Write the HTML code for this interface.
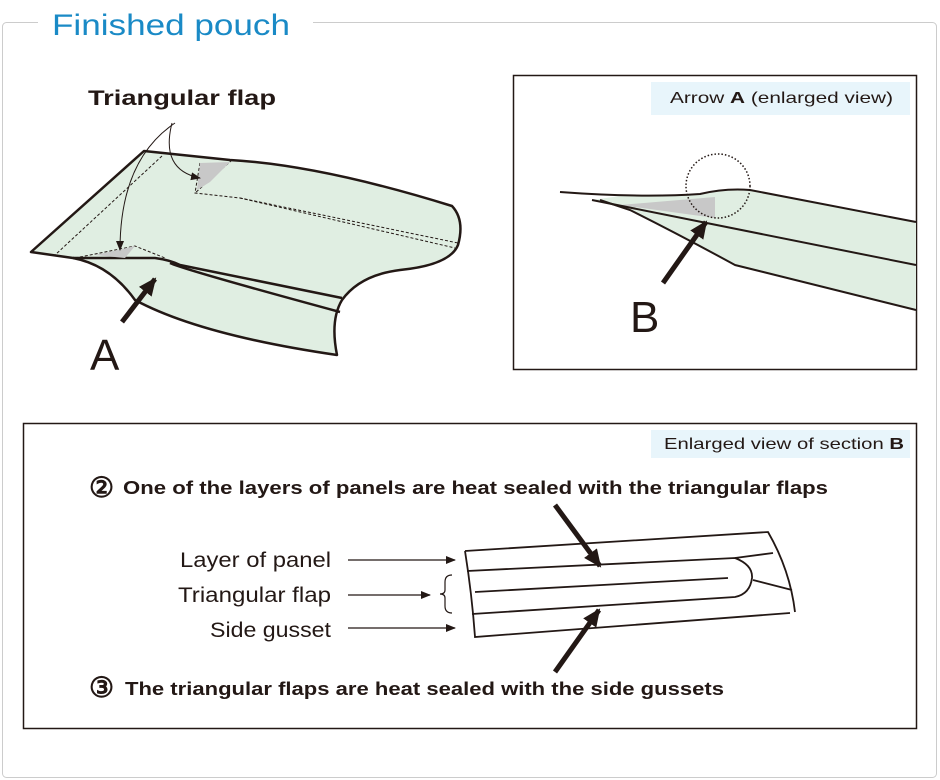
<!DOCTYPE html>
<html><head><meta charset="utf-8"><style>
body{margin:0;background:#fff;}
svg{display:block;font-family:"Liberation Sans",sans-serif;}
</style></head><body>
<svg width="940" height="780" viewBox="0 0 940 780" xmlns="http://www.w3.org/2000/svg">
<defs>
<marker id="ah" markerWidth="10" markerHeight="10" refX="9" refY="5" orient="auto" markerUnits="userSpaceOnUse"><path d="M0,1 L10,5 L0,9 Z" fill="#231815"/></marker>
<marker id="ahs" markerWidth="20" markerHeight="20" refX="16" refY="10" orient="auto" markerUnits="userSpaceOnUse"><path d="M0,2 L18,10 L0,18 Z" fill="#231815"/></marker>
</defs>
<rect x="2.5" y="22.5" width="934" height="755" rx="4" fill="none" stroke="#cccccc"/>
<rect x="38" y="8" width="275" height="30" fill="#fff"/>
<text x="52" y="35" font-size="30" fill="#1a8ac6" textLength="238" lengthAdjust="spacingAndGlyphs">Finished pouch</text>

<!-- main pouch -->
<path d="M144,151 L31,252 L73,258 Q110,265 135,300 Q200,335 337,355 Q330,320 342,300 Q360,275 400,270 Q450,265 458,245 Q465,220 452,206 Q320,165 230,160 L144,151 Z" fill="#e0eee2" stroke="#231815" stroke-width="2.5" stroke-linejoin="round"/>
<path d="M73,258 L155,258 Q170,260 180,265 L342,298" fill="none" stroke="#231815" stroke-width="2.5"/>
<path d="M170,263 Q185,270 340,312" fill="none" stroke="#231815" stroke-width="2.5"/>
<g fill="none" stroke="#231815" stroke-width="1" stroke-dasharray="3,2">
<path d="M162,156 L55,255"/>
<path d="M200,163 L195,193 L240,198 L458,243"/>
<path d="M232,160 L195,193"/>
<path d="M240,198 L455,248"/>
<path d="M75,258 L135,246 L165,258"/>
</g>
<path d="M200,163 L230,162 L210,182 L197,190 Z" fill="#c8c8c8"/>
<path d="M95,255 L135,246 L125,258 Z" fill="#c8c8c8"/>
<path d="M175,123 Q120,160 120,250" fill="none" stroke="#231815" stroke-width="1" marker-end="url(#ah)"/>
<path d="M172,123 Q160,170 200,178" fill="none" stroke="#231815" stroke-width="1" marker-end="url(#ah)"/>
<text x="88" y="105" font-size="21" font-weight="bold" fill="#231815" textLength="188" lengthAdjust="spacingAndGlyphs">Triangular flap</text>
<line x1="122" y1="322" x2="155" y2="279" stroke="#231815" stroke-width="5" marker-end="url(#ahs)"/>
<text x="90" y="370" font-size="44" fill="#231815">A</text>

<!-- right box -->
<rect x="513.5" y="75.5" width="403" height="294" fill="#fff" stroke="#231815" stroke-width="1.5"/>
<rect x="651" y="82" width="259" height="33" fill="#e8f5fb"/>
<text x="670" y="103" font-size="16" fill="#231815" textLength="223" lengthAdjust="spacingAndGlyphs">Arrow <tspan font-weight="bold">A</tspan> (enlarged view)</text>
<path d="M592,200 L630,210 Q680,235 735,265 L916,310 L916,222 L750,190 Q725,188 700,194 L620,196 Z" fill="#e0eee2"/>
<path d="M620,205 L715,197 L715,218 Z" fill="#c8c8c8"/>
<path d="M560,192 Q640,198 700,194 Q725,188 750,190 L916,222" fill="none" stroke="#231815" stroke-width="2"/>
<path d="M592,200 L916,265" fill="none" stroke="#231815" stroke-width="2"/>
<path d="M600,200 L630,210 Q680,235 735,265 L916,310" fill="none" stroke="#231815" stroke-width="2"/>
<circle cx="718" cy="186" r="32" fill="none" stroke="#231815" stroke-width="1.5" stroke-dasharray="1.5,2"/>
<line x1="663" y1="283" x2="706" y2="222" stroke="#231815" stroke-width="5" marker-end="url(#ahs)"/>
<text x="630" y="332" font-size="44" fill="#231815">B</text>

<!-- bottom box -->
<rect x="23.5" y="423.5" width="893" height="305" fill="#fff" stroke="#231815" stroke-width="1.5"/>
<rect x="651" y="430" width="259" height="28" fill="#e8f5fb"/>
<text x="664" y="449" font-size="16" fill="#231815" textLength="240" lengthAdjust="spacingAndGlyphs">Enlarged view of section <tspan font-weight="bold">B</tspan></text>
<text x="89" y="497" font-size="28" font-weight="bold" fill="#231815">②</text>
<text x="123" y="494" font-size="18" font-weight="bold" fill="#231815" textLength="705" lengthAdjust="spacingAndGlyphs">One of the layers of panels are heat sealed with the triangular flaps</text>
<text x="89" y="697" font-size="28" font-weight="bold" fill="#231815">③</text>
<text x="125" y="695" font-size="18" font-weight="bold" fill="#231815" textLength="599" lengthAdjust="spacingAndGlyphs">The triangular flaps are heat sealed with the side gussets</text>
<g font-size="21" fill="#231815">
<text x="180" y="567" textLength="151" lengthAdjust="spacingAndGlyphs">Layer of panel</text>
<text x="178" y="602" textLength="153" lengthAdjust="spacingAndGlyphs">Triangular flap</text>
<text x="210" y="637" textLength="121" lengthAdjust="spacingAndGlyphs">Side gusset</text>
</g>
<g stroke="#231815" stroke-width="1.2">
<line x1="348" y1="560" x2="455" y2="560" marker-end="url(#ah)"/>
<line x1="348" y1="595" x2="430" y2="595" marker-end="url(#ah)"/>
<line x1="348" y1="628" x2="455" y2="628" marker-end="url(#ah)"/>
</g>
<path d="M452,575 Q445,575 445,582 L445,590 Q445,594 440,594 Q445,594 445,598 L445,606 Q445,613 452,613" fill="none" stroke="#231815" stroke-width="1.2"/>
<g fill="none" stroke="#231815" stroke-width="1.8">
<path d="M465,551 L768,532 Q790,570 795,612"/>
<path d="M465,551 Q472,595 475,637 L790,613"/>
<path d="M467,571 L735,558 Q753,565 752,578 Q750,594 735,597 L472,614"/>
<path d="M475,592 L728,578"/>
<path d="M753,580 L792,590"/>
<path d="M735,558 L773,553"/>
</g>
<line x1="555" y1="505" x2="600" y2="566" stroke="#231815" stroke-width="5" marker-end="url(#ahs)"/>
<line x1="555" y1="672" x2="599" y2="610" stroke="#231815" stroke-width="5" marker-end="url(#ahs)"/>
</svg>
</body></html>
